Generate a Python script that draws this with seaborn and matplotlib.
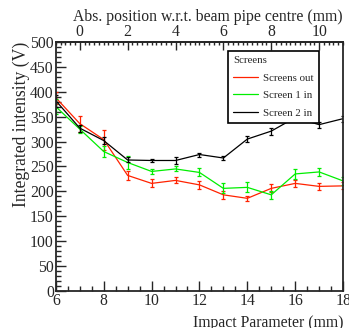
import matplotlib
matplotlib.use("Agg")
import matplotlib.pyplot as plt
import seaborn as sns
import numpy as np
import pandas as pd
from matplotlib.ticker import MultipleLocator

sns.set_theme(style="ticks")
plt.rcParams['font.family'] = ['Liberation Serif', 'DejaVu Serif']

impact = [6, 7, 8, 9, 10, 11, 12, 13, 14, 15, 16, 17, 18]
screens_out = [388, 336, 304, 232, 216, 222, 213, 193, 186, 206, 216, 210, 211]
screens_out_err = [12, 16, 20, 9, 8, 6, 8, 8, 5, 8, 7, 7, 7]
screen1_in = [370, 325, 280, 258, 240, 245, 238, 206, 208, 193, 235, 239, 221]
screen1_in_err = [15, 7, 12, 13, 5, 5, 8, 10, 10, 8, 10, 8, 8]
screen2_in = [382, 327, 302, 263, 262, 262, 274, 267, 305, 321, 348, 334, 346]
screen2_in_err = [12, 7, 7, 5, 3, 8, 4, 5, 6, 7, 6, 6, 6]

series = [
    ("Screens out", screens_out, screens_out_err, "#ff2200"),
    ("Screen 1 in", screen1_in, screen1_in_err, "#00ee00"),
    ("Screen 2 in", screen2_in, screen2_in_err, "#000000"),
]

FS = 11.3

fig = plt.figure(figsize=(3.49, 3.28), dpi=100)
ax = fig.add_axes([0.160, 0.113, 0.823, 0.759])

for name, vals, errs, col in series:
    df = pd.DataFrame({"x": impact, "y": vals})
    sns.lineplot(data=df, x="x", y="y", ax=ax, color=col, lw=0.9, label=name)
    ax.errorbar(impact, vals, yerr=errs, fmt='none', ecolor=col, elinewidth=0.9,
                capsize=1.2, capthick=0.9)

ax.set_xlim(6, 18)
ax.set_ylim(0, 500)
ax.xaxis.set_major_locator(MultipleLocator(2))
ax.xaxis.set_minor_locator(MultipleLocator(0.5))
ax.yaxis.set_major_locator(MultipleLocator(50))
ax.yaxis.set_minor_locator(MultipleLocator(10))
ax.tick_params(which='both', direction='in', labelsize=FS, pad=1.5, width=1.0)
ax.tick_params(which='major', length=7)
ax.tick_params(which='minor', length=3.5)
ax.tick_params(axis='y', which='both', right=False)
for s in ax.spines.values():
    s.set_linewidth(1.3)

ax.set_xlabel("Impact Parameter (mm)", loc='right', fontsize=FS, labelpad=4)
ax.set_ylabel("Integrated intensity (V)", loc='top', fontsize=12.7, labelpad=0)

sec = ax.secondary_xaxis('top', functions=(lambda x: x - 7, lambda x: x + 7))
sec.xaxis.set_major_locator(MultipleLocator(2))
sec.xaxis.set_minor_locator(MultipleLocator(0.2))
sec.tick_params(which='both', direction='in', labelsize=FS, pad=1.5, width=1.0)
sec.tick_params(which='major', length=6)
sec.tick_params(which='minor', length=2.5)
sec.set_xlabel("Abs. position w.r.t. beam pipe centre (mm)", loc='right', fontsize=FS, labelpad=2)
sec.spines['top'].set_linewidth(1.3)

leg = ax.legend(title="Screens", loc='upper left', bbox_to_anchor=(0.599, 0.964),
                fontsize=7.8, title_fontsize=7.8, frameon=True, fancybox=False,
                edgecolor='black', handlelength=2.3, handletextpad=0.5, borderaxespad=0,
                labelspacing=0.75, borderpad=0.45)
leg._legend_box.align = "left"
leg.get_frame().set_linewidth(1.2)
leg.get_frame().set_alpha(1)

fig.savefig("out.png", dpi=100)
